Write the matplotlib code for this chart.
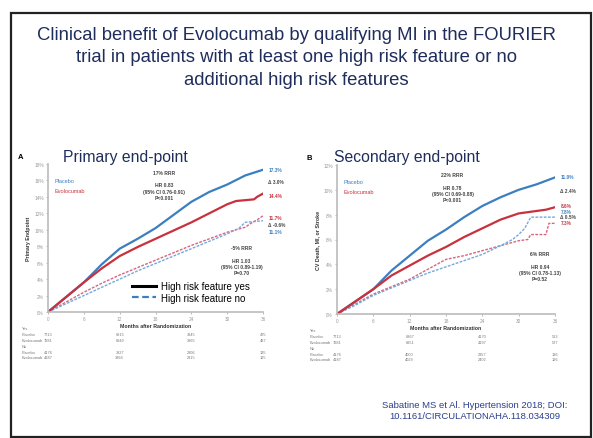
import matplotlib.pyplot as plt
import matplotlib.patches as patches

# slide text
title_lines = ["Clinical benefit of Evolocumab by qualifying MI in the FOURIER",
               "trial in patients with at least one high risk feature or no",
               "additional high risk features"]
sub_a = "Primary end-point"
sub_b = "Secondary end-point"
citation = ["Sabatine MS et Al. Hypertension 2018; DOI:",
            "10.1161/CIRCULATIONAHA.118.034309"]

# panel A: primary endpoint (%)
a_months_pb_yes = [0, 3, 6, 9, 12, 15, 18, 21, 24, 27, 30, 33, 36]
a_pb_yes = [0, 1.8, 3.6, 5.8, 7.7, 8.9, 10.2, 11.8, 13.4, 14.6, 15.5, 16.6, 17.3]
a_months_ev_yes = [0, 3, 6, 9, 12, 15, 18, 21, 24, 27, 30, 31.5, 33, 34.5, 35, 36]
a_ev_yes = [0, 1.8, 3.6, 5.3, 6.8, 7.9, 8.9, 9.9, 10.9, 12.0, 13.1, 13.5, 13.6, 13.7, 14.0, 14.4]
a_months_ev_no = [0, 3, 6, 9, 12, 15, 18, 21, 24, 27, 30, 33, 34, 35, 36]
a_ev_no = [0, 1.2, 2.4, 3.5, 4.5, 5.4, 6.3, 7.2, 8.1, 8.9, 9.7, 10.3, 10.8, 11.2, 11.7]
a_months_pb_no = [0, 3, 6, 9, 12, 15, 18, 21, 24, 27, 30, 32, 33, 34.5, 36]
a_pb_no = [0, 1.0, 2.0, 3.0, 4.0, 5.0, 5.9, 6.8, 7.7, 8.6, 9.5, 10.2, 10.9, 11.0, 11.1]

# panel B: secondary endpoint (%)
b_months_pb_yes = [0, 3, 6, 9, 12, 15, 18, 21, 24, 27, 30, 33, 36]
b_pb_yes = [0, 1.0, 2.0, 3.5, 4.7, 5.9, 6.8, 7.8, 8.7, 9.4, 10.0, 10.45, 11.0]
b_months_ev_yes = [0, 3, 6, 9, 12, 15, 18, 21, 24, 27, 30, 33, 34.5, 36]
b_ev_yes = [0, 1.0, 2.0, 3.1, 3.9, 4.7, 5.4, 6.2, 6.9, 7.6, 8.1, 8.3, 8.4, 8.6]
b_months_pb_no = [0, 3, 6, 9, 12, 15, 18, 21, 24, 27, 29, 30, 31, 32, 36]
b_pb_no = [0, 0.7, 1.5, 2.1, 2.7, 3.3, 3.8, 4.3, 4.8, 5.5, 6.0, 6.4, 6.9, 7.8, 7.8]
b_months_ev_no = [0, 3, 6, 9, 12, 15, 18, 21, 24, 27, 30, 31.5, 32, 34.5, 35, 36]
b_ev_no = [0, 0.8, 1.6, 2.2, 2.8, 3.6, 4.4, 4.7, 5.1, 5.5, 5.9, 6.0, 6.4, 6.4, 7.3, 7.3]

# stats text
a_stats_yes = ["17% RRR", "", "HR 0.83", "(95% CI 0.76-0.91)", "P<0.001"]
a_stats_no = ["-5% RRR", "", "HR 1.03", "(95% CI 0.89-1.19)", "P=0.70"]
b_stats_yes = ["22% RRR", "", "HR 0.78", "(95% CI 0.69-0.88)", "P<0.001"]
b_stats_no = ["6% RRR", "", "HR 0.94", "(95% CI 0.78-1.13)", "P=0.52"]
a_end_labels = [("17.3%", 'b'), ("\u0394 3.0%", 'k'), ("14.4%", 'r'), ("11.7%", 'r'), ("\u0394 -0.6%", 'k'), ("11.1%", 'b')]
b_end_labels = [("11.0%", 'b'), ("\u0394 2.4%", 'k'), ("8.6%", 'r'), ("7.8%", 'b'), ("\u0394 0.5%", 'k'), ("7.3%", 'r')]

# numbers at risk
risk_cols = [0, 12, 24, 36]
a_risk = [["Yes"], ["Placebo", 7713, 6815, 3845, 475], ["Evolocumab", 7681, 6940, 3965, 487],
          ["No"], ["Placebo", 4176, 3927, 2306, 135], ["Evolocumab", 4187, 3966, 2315, 125]]
b_risk = [["Yes"], ["Placebo", 7713, 6867, 4170, 513], ["Evolocumab", 7681, 6951, 4197, 527],
          ["No"], ["Placebo", 4176, 4000, 2357, 136], ["Evolocumab", 4187, 4029, 2402, 126]]

BLUE = '#3c7fc0'
RED = '#c8313d'
BLUE_L = '#73a9dc'
RED_L = '#d9647c'
NAVY = '#1f2d5c'
col = {'b': BLUE, 'r': RED, 'k': '#444444'}

plt.rcParams['font.family'] = ['Liberation Sans', 'DejaVu Sans']

W, H = 593, 439
fig = plt.figure(figsize=(W / 100, H / 100), dpi=100)

# slide frame
fig.add_artist(patches.Rectangle((11 / W, 1 / H), 580 / W, 424 / H, transform=fig.transFigure,
                                 fill=False, edgecolor='#222222', linewidth=1.6))

for i, t in enumerate(title_lines):
    fig.text(0.5, 1 - (35.5 + 22.5 * i) / H, t, ha='center', va='center', fontsize=13.3, color=NAVY)
fig.text(125 / W, 1 - 158 / H, sub_a, ha='center', va='center', fontsize=11.3, color=NAVY)
fig.text(407 / W, 1 - 158 / H, sub_b, ha='center', va='center', fontsize=11.3, color=NAVY)
for i, t in enumerate(citation):
    fig.text(475 / W, 1 - (405.5 + 11 * i) / H, t, ha='center', va='center', fontsize=6.8, color='#2a3f8f')


def panel(rect, letter, ymax, ylabel, curves, stats_yes, stats_no, pos_yes, pos_no, ends, end_y, risk, table_x):
    ax = fig.add_axes(rect)
    for m, v, c, ls, lw in curves:
        ax.plot(m, v, color=c, linestyle=ls, linewidth=lw, dashes=(2, 1) if ls == '--' else (None, None))
    ax.set_xlim(0, 36)
    ax.set_ylim(0, ymax)
    ax.set_xticks(range(0, 37, 6))
    ax.set_yticks(range(0, ymax + 1, 2))
    ax.set_yticklabels([f"{t}%" for t in range(0, ymax + 1, 2)])
    for s in ['top', 'right']:
        ax.spines[s].set_visible(False)
    for s in ['left', 'bottom']:
        ax.spines[s].set_color('#bbbbbb')
        ax.spines[s].set_linewidth(1.2)
    ax.tick_params(labelsize=3.4, colors='#999999', length=1.5, width=0.5, pad=1.5)
    ax.set_ylabel(ylabel, fontsize=3.8, fontweight='bold', color='#333333', labelpad=2)
    ax.set_xlabel("Months after Randomization", fontsize=3.8, fontweight='bold', color='#333333', labelpad=1.5)
    ax.text(-0.14, 1.04, letter, transform=ax.transAxes, fontsize=5.5, fontweight='bold')
    ax.text(0.03, 0.88, "Placebo", transform=ax.transAxes, fontsize=4, color=BLUE)
    ax.text(0.03, 0.81, "Evolocumab", transform=ax.transAxes, fontsize=4, color=RED)
    ax.text(pos_yes[0], pos_yes[1], "\n".join(stats_yes), transform=ax.transAxes, ha='center', va='top',
            fontsize=3.6, fontweight='bold', color='#444444', linespacing=1.3)
    ax.text(pos_no[0], pos_no[1], "\n".join(stats_no), transform=ax.transAxes, ha='center', va='top',
            fontsize=3.6, fontweight='bold', color='#444444', linespacing=1.3)
    for (t, c), yy in zip(ends, end_y):
        ax.text(1.025, yy, t, transform=ax.transAxes, fontsize=3.4, fontweight='bold', color=col[c], va='center')
    # numbers at risk table
    y0 = rect[1] - 0.036
    for j, row in enumerate(risk):
        yy = y0 - j * 0.0135
        fig.text(table_x, yy, row[0], fontsize=2.8, color='#777777', va='center')
        for mo, n in zip(risk_cols, row[1:]):
            fig.text(rect[0] + rect[2] * mo / 36, yy, f"{n}", fontsize=2.8, color='#777777', va='center', ha='center')
    return ax


axA = panel([48 / W, 1 - 313 / H, 215 / W, 148 / H], "A", 18, "Primary Endpoint",
            [(a_months_ev_no, a_ev_no, RED_L, '--', 1.0), (a_months_pb_no, a_pb_no, BLUE_L, '--', 1.0),
             (a_months_pb_yes, a_pb_yes, BLUE, '-', 1.6), (a_months_ev_yes, a_ev_yes, RED, '-', 1.6)],
            a_stats_yes, a_stats_no, (0.54, 0.96), (0.9, 0.45), a_end_labels,
            [0.965, 0.88, 0.785, 0.64, 0.59, 0.545], a_risk, 22 / W)

axB = panel([337 / W, 1 - 315 / H, 218 / W, 149 / H], "B", 12, "CV Death, MI, or Stroke",
            [(b_months_ev_no, b_ev_no, RED_L, '--', 1.0), (b_months_pb_no, b_pb_no, BLUE_L, '--', 1.0),
             (b_months_pb_yes, b_pb_yes, BLUE, '-', 1.6), (b_months_ev_yes, b_ev_yes, RED, '-', 1.6)],
            b_stats_yes, b_stats_no, (0.53, 0.95), (0.93, 0.42), b_end_labels,
            [0.925, 0.83, 0.73, 0.69, 0.655, 0.615], b_risk, 310 / W)

# legend for line style
axA.plot([], [], color='black', linewidth=2.2, label="High risk feature yes")
axA.plot([], [], color=BLUE, linewidth=1.6, linestyle='--', dashes=(3, 1.6), label="High risk feature no")
axA.legend(loc='upper left', bbox_to_anchor=(0.385, 0.215), fontsize=7, frameon=False, handlelength=2.5,
           handletextpad=0.5, labelspacing=0.15, borderpad=0.1, borderaxespad=0)

fig.savefig("out.png", dpi=100)
